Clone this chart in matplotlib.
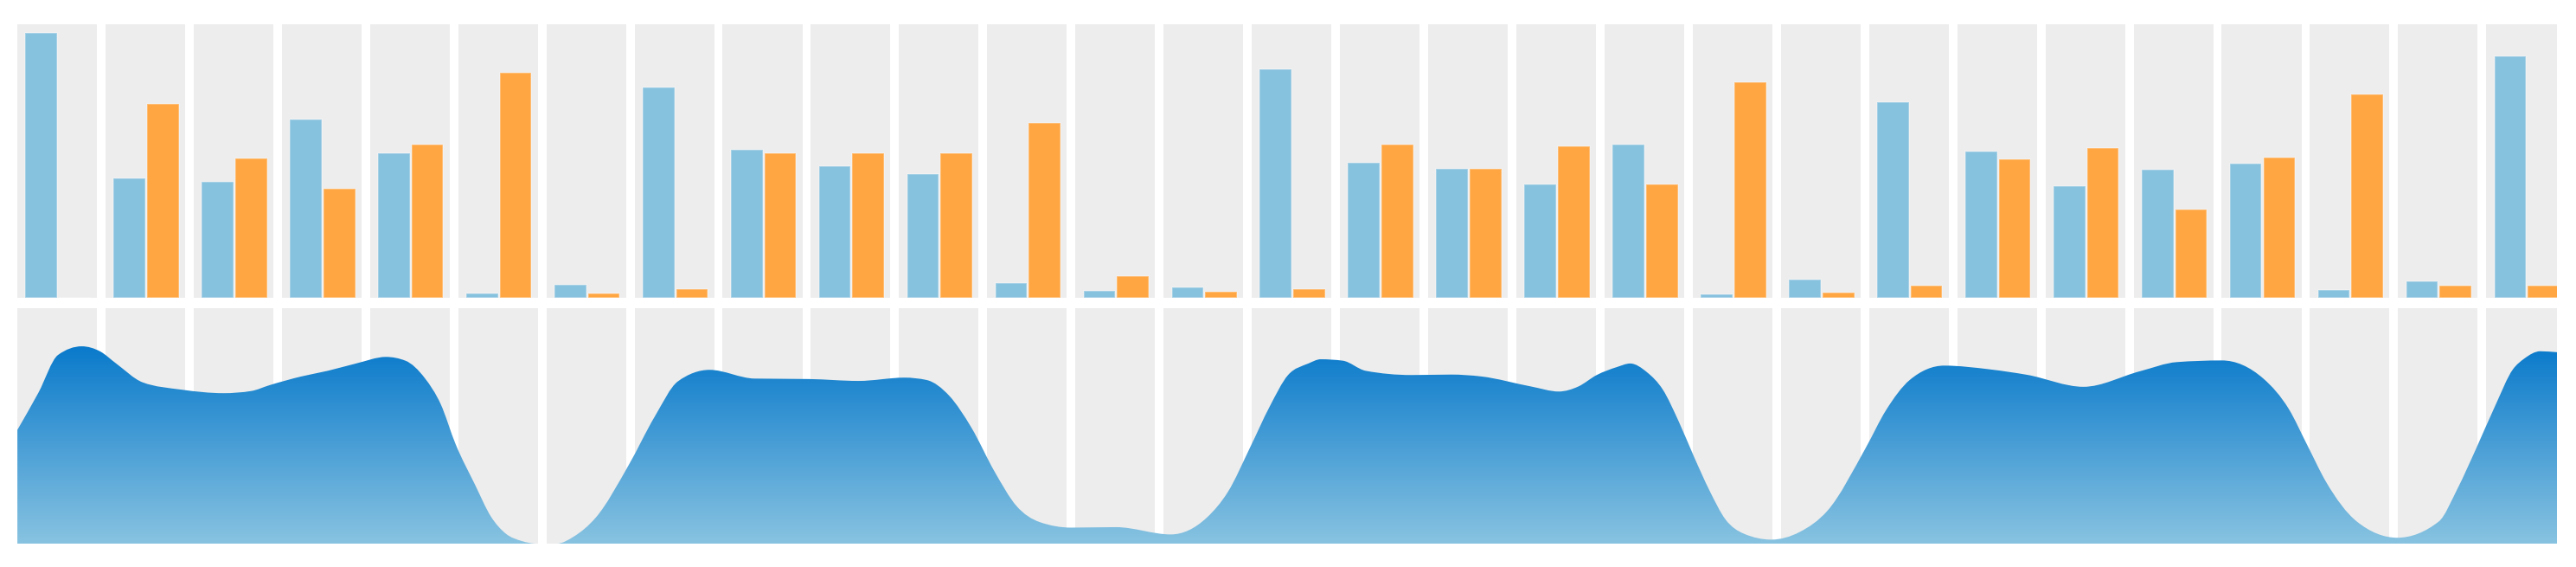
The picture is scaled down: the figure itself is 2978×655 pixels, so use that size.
"""Paired bars per category (top strip) over a smoothed gradient area (bottom strip)."""
import numpy as np
import matplotlib
matplotlib.use("Agg")
import matplotlib.pyplot as plt
from matplotlib.path import Path
from matplotlib.patches import PathPatch
from matplotlib.colors import LinearSegmentedColormap

W, H, DPI = 2978, 655, 100

# ---------------- data (% of panel height) ----------------
CATEGORIES = list(range(29))
BLUE_VALS = [96.8, 43.8, 42.3, 65.3, 52.9, 1.5, 4.6, 77.0, 54.2, 48.2,
             45.2, 5.5, 2.5, 3.7, 83.6, 49.4, 47.0, 41.6, 56.0, 1.3,
             6.7, 71.6, 53.6, 40.7, 46.9, 49.1, 2.9, 6.1, 88.3]
ORANGE_VALS = [0.0, 70.8, 51.0, 39.9, 56.1, 82.2, 1.6, 3.1, 53.0, 53.0,
               53.0, 63.8, 7.9, 2.2, 3.2, 56.0, 47.0, 55.4, 41.6, 78.8,
               2.0, 4.3, 50.6, 54.6, 32.2, 51.3, 74.3, 4.4, 4.4]

# area series: position along the category axis, value
CURVE_X = [-0.45, -0.21, 0.01, 0.28, 0.49, 0.67, 0.97, 1.41, 1.89, 2.20,
           2.41, 2.77, 3.07, 3.39, 3.73, 3.95, 4.17, 4.35, 4.52, 4.74,
           4.92, 5.09, 5.27, 5.44, 5.67, 5.86, 6.11, 6.48, 6.78, 7.04,
           7.40, 7.91, 8.53, 9.09, 9.61, 9.86, 10.12, 10.37, 10.63, 10.88,
           11.14, 11.50, 12.01, 12.63, 13.04, 13.28, 13.53, 13.75, 13.96, 14.19,
           14.33, 14.58, 14.84, 15.36, 15.81, 16.15, 16.72, 17.03, 17.25, 17.46,
           17.69, 17.84, 18.03, 18.21, 18.39, 18.56, 18.74, 18.92, 19.13, 19.44,
           19.76, 20.08, 20.51, 20.74, 21.01, 21.40, 21.92, 22.34, 22.98, 23.62,
           24.04, 24.55, 25.02, 25.31, 25.52, 25.73, 26.08, 26.54, 27.01, 27.22,
           27.43, 27.65, 27.85, 27.98, 28.16, 28.35]
CURVE_Y = [48.3, 64.2, 80.1, 83.8, 81.6, 76.5, 68.5, 65.4, 63.9, 64.8,
           67.3, 71.0, 73.4, 76.5, 79.3, 77.7, 70.3, 59.3, 42.2, 25.0,
           11.5, 4.2, 1.1, 0.0, 0.0, 3.0, 11.1, 33.2, 54.1, 68.9,
           73.8, 70.1, 69.9, 69.1, 70.5, 69.5, 62.7, 49.2, 30.7, 16.0,
           9.2, 6.8, 7.0, 3.9, 11.1, 22.1, 40.9, 58.1, 71.6, 76.5,
           78.3, 77.7, 73.4, 71.6, 71.8, 71.0, 66.7, 64.6, 66.7, 71.6,
           75.0, 76.5, 72.8, 65.4, 51.9, 37.2, 22.5, 10.3, 4.2, 1.7,
           4.9, 14.1, 40.6, 56.6, 69.5, 75.6, 74.0, 71.7, 66.6, 73.2,
           77.1, 77.8, 70.1, 57.1, 41.7, 26.3, 9.4, 2.5, 9.4, 23.2,
           40.1, 58.6, 74.0, 78.6, 81.7, 81.3]

# ---------------- style ----------------
BLUE, ORANGE, PANEL = "#86c1de", "#ffa642", "#ededed"
GRAD_LO, GRAD_HI = "#88c3e1", "#0a7acb"
EDGE = (1, 1, 1, 0.35)
PANEL_W = 0.9026          # gray column width (category units)
BAR_W = 0.36
XLIM = (-0.451, 28.35)


def _panels(ax):
    ax.bar(CATEGORIES, 100, width=PANEL_W, color=PANEL, linewidth=0, zorder=1)
    ax.set_xlim(*XLIM); ax.set_ylim(0, 100)
    ax.axis("off")


def _monotone_tangents(x, y):
    """Fritsch-Carlson style tangents (as d3.curveMonotoneX) so the curve never overshoots."""
    h = np.diff(x); s = np.diff(y) / h
    m = np.empty_like(y)
    m[0], m[-1] = s[0], s[-1]
    for i in range(1, len(y) - 1):
        s0, s1, h0, h1 = s[i - 1], s[i], h[i - 1], h[i]
        if s0 * s1 <= 0:
            m[i] = 0.0
        else:
            p = (s0 * h1 + s1 * h0) / (h0 + h1)
            m[i] = (np.sign(s0) + np.sign(s1)) * min(abs(s0), abs(s1), 0.5 * abs(p))
    return m


def _smooth_area(x, y, base=0.0):
    """Closed path: monotone cubic through the points (cubic Beziers), down to the baseline."""
    x = np.asarray(x, float); y = np.asarray(y, float)
    m = _monotone_tangents(x, y)
    verts, codes = [(x[0], base), (x[0], y[0])], [Path.MOVETO, Path.LINETO]
    for i in range(len(x) - 1):
        d = (x[i + 1] - x[i]) / 3
        verts += [(x[i] + d, y[i] + m[i] * d), (x[i + 1] - d, y[i + 1] - m[i + 1] * d),
                  (x[i + 1], y[i + 1])]
        codes += [Path.CURVE4] * 3
    verts += [(x[-1], base), (x[0], base)]
    codes += [Path.LINETO, Path.CLOSEPOLY]
    return Path(verts, codes)


fig = plt.figure(figsize=(W / DPI, H / DPI), dpi=DPI)

# top strip: paired bars
ax1 = fig.add_axes([20 / W, (H - 344) / H, 2936 / W, 316 / H])
_panels(ax1)
x = np.asarray(CATEGORIES, float)
ax1.bar(x - 0.18, BLUE_VALS, width=BAR_W, color=BLUE, edgecolor=EDGE, linewidth=1.1, zorder=2)
ax1.bar(x + 0.20, ORANGE_VALS, width=BAR_W, color=ORANGE, edgecolor=EDGE, linewidth=1.1, zorder=2)

# bottom strip: smoothed area with vertical gradient
ax2 = fig.add_axes([20 / W, (H - 628) / H, 2936 / W, 272 / H])
_panels(ax2)
patch = PathPatch(_smooth_area(CURVE_X, CURVE_Y), facecolor="none", edgecolor="none")
ax2.add_patch(patch)
cmap = LinearSegmentedColormap.from_list("area", [GRAD_LO, GRAD_HI])
grad = np.linspace(0, 1, 256).reshape(-1, 1)
im = ax2.imshow(grad, extent=[XLIM[0], XLIM[1], 0, max(CURVE_Y)], origin="lower",
                cmap=cmap, aspect="auto", zorder=3, interpolation="bilinear")
im.set_clip_path(patch)
ax2.set_xlim(*XLIM); ax2.set_ylim(0, 100)

fig.savefig("out.png", dpi=DPI)
